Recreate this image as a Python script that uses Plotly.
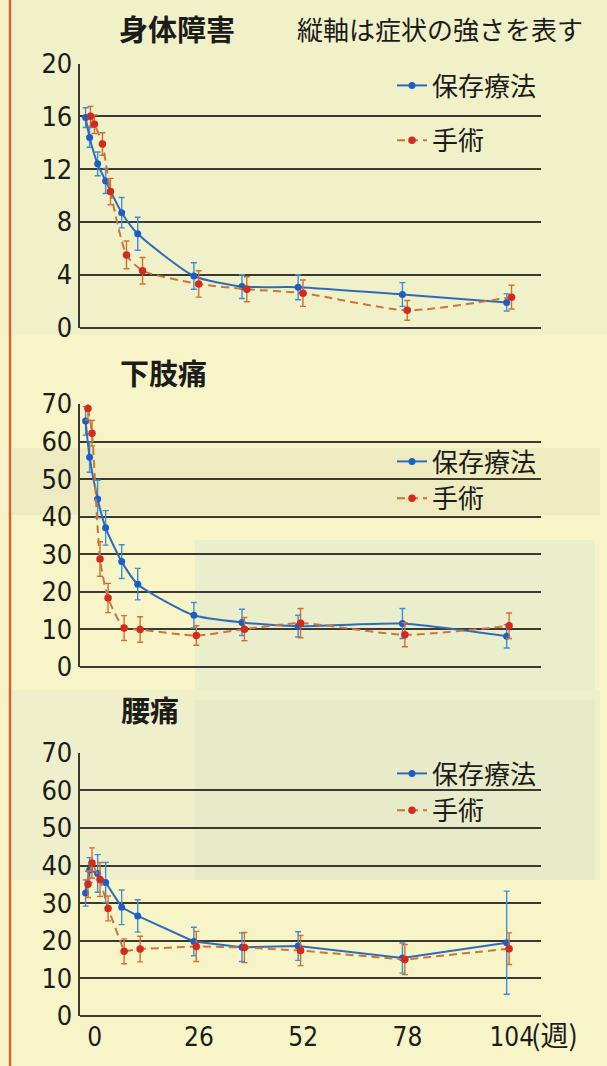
import plotly.graph_objects as go

W, H = 607, 1066

# measurement weeks (shared by all three panels)
weeks = [-1, 0, 2, 4, 8, 12, 26, 38, 52, 78, 104]
week_ticks = [0, 26, 52, 78, 104]
week_tick_text = ["0", "26", "52", "78", "104"]
series_names = ["保存療法", "手術"]

# 身体障害 (0-20)
disability_cons = [15.9, 14.4, 12.4, 11.1, 8.7, 7.1, 3.9, 3.1, 3.05, 2.5, 1.9]
disability_cons_err = [0.75, 0.75, 0.9, 0.95, 1.15, 1.25, 1.0, 0.9, 0.95, 0.9, 0.65]
disability_surg = [16.0, 15.4, 13.9, 10.3, 5.5, 4.3, 3.3, 2.9, 2.6, 1.3, 2.3]
disability_surg_err = [0.75, 0.7, 0.85, 1.0, 1.05, 1.0, 1.0, 0.95, 1.0, 0.75, 0.9]

# 下肢痛 (0-70)
legpain_cons = [65.5, 55.8, 44.7, 37.0, 28.0, 22.0, 13.7, 11.8, 10.8, 11.5, 8.1]
legpain_cons_err = [3.8, 4.0, 5.0, 4.6, 4.5, 4.2, 3.4, 3.5, 2.9, 4.0, 3.1]
legpain_surg = [68.8, 62.2, 28.7, 18.3, 10.3, 9.9, 8.3, 10.0, 11.6, 8.5, 10.9]
legpain_surg_err = [3.1, 3.4, 4.6, 3.9, 3.3, 3.4, 2.6, 3.1, 3.9, 3.2, 3.4]

# 腰痛 (0-70)
backpain_cons = [32.7, 38.8, 37.9, 35.5, 28.9, 26.6, 19.8, 18.3, 18.6, 15.4, 19.5]
backpain_cons_err = [3.5, 3.3, 5.0, 5.3, 4.6, 4.3, 3.8, 3.8, 3.8, 4.0, 13.7]
backpain_surg = [35.0, 40.7, 36.3, 28.6, 17.2, 17.8, 18.5, 18.2, 17.4, 15.0, 17.9]
backpain_surg_err = [3.5, 4.0, 4.5, 3.3, 3.3, 3.4, 4.0, 4.0, 4.0, 4.0, 4.2]

# styling
BG = "#f7f5c7"
INK = "#1c1c1a"
GRID = "#3a3a32"
BLUE_LINE, BLUE_DOT, BLUE_ERR = "#2f6cb8", "#1c5ec8", "#3f8fd8"
RED_LINE, RED_DOT, RED_ERR = "#c9763c", "#d42a1e", "#d2702e"
NUM_FONT = "Liberation Sans Narrow, DejaVu Sans Condensed, Roboto, sans-serif"
JP_FONT = "Noto Sans CJK JP, Noto Sans CJK SC, sans-serif"

def py(px):
    return 1 - px / H

def pxx(px):
    return px / W

x_domain = [pxx(79.5), pxx(541)]
x_range = [-2.52, 112.55]

panels = [
    dict(title="身体障害", cons=disability_cons, cons_err=disability_cons_err,
         surg=disability_surg, surg_err=disability_surg_err,
         yr=[0, 20], dtick=4, ypx=(63.5, 327.5), shift=1.2, shape="spline",
         title_xy=(177, 28), legend_top=62, group_gap=18),
    dict(title="下肢痛", cons=legpain_cons, cons_err=legpain_cons_err,
         surg=legpain_surg, surg_err=legpain_surg_err,
         yr=[0, 70], dtick=10, ypx=(404, 666.7), shift=0.6, shape="spline",
         title_xy=(163, 372), legend_top=438, group_gap=0),
    dict(title="腰痛", cons=backpain_cons, cons_err=backpain_cons_err,
         surg=backpain_surg, surg_err=backpain_surg_err,
         yr=[0, 70], dtick=10, ypx=(752.7, 1016), shift=0.6, shape="linear",
         title_xy=(150, 709), legend_top=750, group_gap=0),
]

fig = go.Figure()
layout = dict(
    template="none",
    width=W, height=H, margin=dict(l=0, r=0, t=0, b=0, pad=0, autoexpand=False),
    paper_bgcolor=BG, plot_bgcolor="rgba(0,0,0,0)",
    showlegend=True, annotations=[], shapes=[],
)

for i, p in enumerate(panels, start=1):
    sfx = "" if i == 1 else str(i)
    xa, ya = "x" + sfx, "y" + sfx
    leg = "legend" + sfx
    surg_weeks = [w + p["shift"] for w in weeks]

    fig.add_trace(go.Scatter(
        x=weeks, y=p["cons"], xaxis=xa, yaxis=ya, name=series_names[0],
        legend=leg, legendgroup=f"c{i}", mode="lines+markers",
        line=dict(color=BLUE_LINE, width=2, shape=p["shape"], smoothing=0.6),
        marker=dict(color=BLUE_DOT, size=7),
        error_y=dict(type="data", array=p["cons_err"], visible=True,
                     color=BLUE_ERR, thickness=1.4, width=3),
        cliponaxis=False,
    ))
    fig.add_trace(go.Scatter(
        x=surg_weeks, y=p["surg"], xaxis=xa, yaxis=ya, name=series_names[1],
        legend=leg, legendgroup=f"s{i}", mode="lines+markers",
        line=dict(color=RED_LINE, width=2, dash="8px,5px", shape=p["shape"], smoothing=0.6),
        marker=dict(color=RED_DOT, size=7.5),
        error_y=dict(type="data", array=p["surg_err"], visible=True,
                     color=RED_ERR, thickness=1.4, width=3),
        cliponaxis=False,
    ))

    top_px, bot_px = p["ypx"]
    layout["xaxis" + sfx] = dict(
        domain=x_domain, range=x_range, anchor=ya, automargin=False,
        showgrid=False, zeroline=False, showline=False,
        showticklabels=(i == 3), tickmode="array",
        tickvals=week_ticks, ticktext=week_tick_text, ticks="", ticklen=0,
        ticklabelshift=5, ticklabelstandoff=3,
        tickfont=dict(family=NUM_FONT, size=26, color=INK),
    )
    layout["yaxis" + sfx] = dict(
        domain=[py(bot_px), py(top_px)], range=p["yr"], anchor=xa, automargin=False,
        dtick=p["dtick"], tick0=0, showgrid=True, gridcolor=GRID, gridwidth=1.6,
        zeroline=True, zerolinecolor=GRID, zerolinewidth=1.6,
        showline=True, linecolor=GRID, linewidth=1.6,
        ticks="", ticklen=0, ticklabelstandoff=0,
        tickfont=dict(family=NUM_FONT, size=27, color=INK),
    )
    layout[leg] = dict(
        x=pxx(392), xanchor="left", y=py(p["legend_top"]), yanchor="top",
        bgcolor="rgba(0,0,0,0)", borderwidth=0, traceorder="grouped",
        tracegroupgap=p["group_gap"], itemwidth=30,
        font=dict(family=JP_FONT, size=26, color=INK),
    )
    tx, ty = p["title_xy"]
    layout["annotations"].append(dict(
        text=f"<b>{p['title']}</b>", x=pxx(tx), y=py(ty), xref="paper", yref="paper",
        showarrow=False, font=dict(family=JP_FONT, size=29, color=INK),
        xanchor="center", yanchor="middle",
    ))

layout["annotations"].append(dict(
    text="縦軸は症状の強さを表す", x=pxx(440), y=py(29), xref="paper", yref="paper",
    showarrow=False, font=dict(family=JP_FONT, size=26, color=INK),
    xanchor="center", yanchor="middle",
))
layout["annotations"].append(dict(
    text="(週)", x=pxx(529), y=py(1034), xref="paper", yref="paper",
    showarrow=False, font=dict(family=JP_FONT, size=28, color=INK),
    xanchor="left", yanchor="middle",
))

# faint tinted regions of the printed page behind the charts
def rect(x0, y0, x1, y1, color):
    return dict(type="rect", xref="paper", yref="paper", layer="below",
                x0=pxx(x0), x1=pxx(x1), y0=py(y1), y1=py(y0),
                fillcolor=color, line=dict(width=0))

layout["shapes"] += [
    rect(12, 0, 607, 335, "#f0f1c8"),
    rect(12, 448, 600, 515, "#eeebc0"),
    rect(195, 540, 595, 690, "#ebeecb"),
    rect(12, 690, 600, 880, "#eff0cb"),
    rect(195, 700, 595, 880, "#e7ebc9"),
    dict(type="line", xref="paper", yref="paper", x0=pxx(10), x1=pxx(10), y0=0, y1=1,
         line=dict(color="#d9603a", width=2.5)),
]

fig.update_layout(**layout)
fig.write_html("out.html")
